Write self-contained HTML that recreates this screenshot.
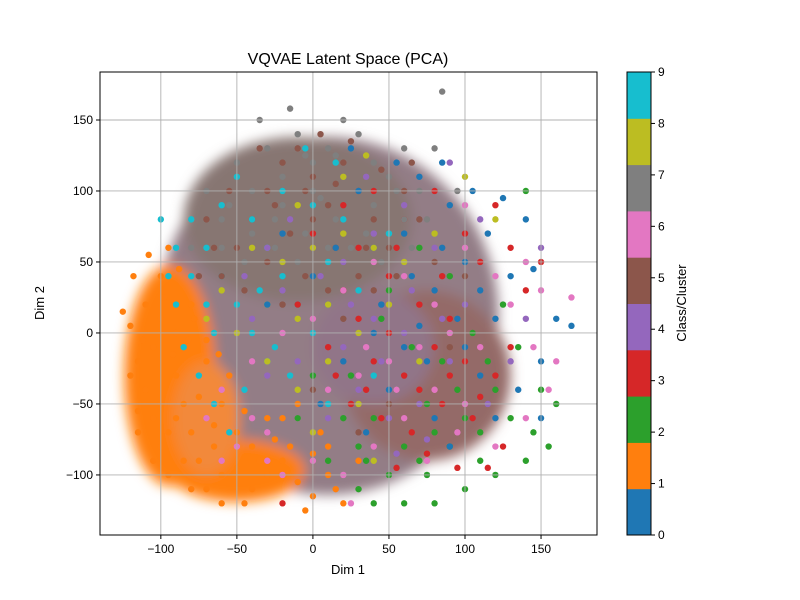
<!DOCTYPE html>
<html><head><meta charset="utf-8"><style>
body{margin:0;background:#fff}
svg{display:block;font-family:"Liberation Sans","DejaVu Sans",sans-serif}
</style></head><body>
<svg id="chart" width="800" height="600" viewBox="0 0 800 600">
<defs><filter id="soft" x="-20%" y="-20%" width="140%" height="140%"><feGaussianBlur stdDeviation="6"/></filter>
<clipPath id="plotclip"><rect x="100" y="72" width="497" height="463"/></clipPath></defs>
<rect x="0" y="0" width="800" height="600" fill="#fff"/>
<g id="backdrop" filter="url(#soft)" clip-path="url(#plotclip)"></g>
<g id="points"></g>
<g id="grid"></g>
<rect x="100" y="72" width="497" height="463" fill="none" stroke="#000" stroke-width="1"/>
<g id="xticks"></g>
<g id="yticks"></g>
<text x="348" y="64" text-anchor="middle" font-size="16">VQVAE Latent Space (PCA)</text>
<text x="348" y="574" text-anchor="middle" font-size="13">Dim 1</text>
<text x="44" y="303" text-anchor="middle" font-size="13" transform="rotate(-90 44 303)">Dim 2</text>
<g id="cbar"></g>
<text x="686" y="303" text-anchor="middle" font-size="13" transform="rotate(-90 686 303)">Class/Cluster</text>
</svg>
<script>
const xTicks=[-100,-50,0,50,100,150];
const yTicks=[-100,-50,0,50,100,150];
const cbTicks=[0,1,2,3,4,5,6,7,8,9];
const colors=["#1f77b4","#ff7f0e","#2ca02c","#d62728","#9467bd","#8c564b","#e377c2","#7f7f7f","#bcbd22","#17becf"];
const class0=[10,20,40,60,60,-10,80,30,100,50,120,10,130,40,150,-20,170,5,140,80,90,90,70,110,30,100,50,-40,80,-60,110,-30,20,-20,0,40,-20,70,60,70,95,10,115,70,135,-40,75,-20,45,20,25,130,85,120,105,100,145,45,160,10,5,-50,-30,20,65,40,125,95,55,120,35,-70,90,-80,100,-10,120,-60,150,-60,70,5,40,0,110,30,85,60,15,60];
const class1=[-120,5,-115,-20,-110,-40,-105,-60,-100,-80,-95,-100,-110,20,-100,40,-95,60,-105,-10,-90,-30,-85,-50,-80,-70,-75,-90,-70,-110,-60,-100,-50,-95,-40,-110,-30,-100,-20,-90,-10,-105,0,-115,10,-100,20,-120,-90,0,-80,20,-70,-20,-60,-50,-50,-70,-40,-80,-30,-60,-65,-80,-55,-30,-85,-90,-95,-70,-100,-50,-115,-55,-120,-30,-112,-5,-100,10,-92,-15,-82,-5,-75,-45,-65,-65,-45,-55,-35,-90,-25,-75,-15,-80,0,-85,10,-80,-125,15,-118,40,-108,55,-98,25,-88,45,-78,10,-70,-5,-62,-15,-90,-60,-80,-110,-60,-120,-45,-120,-5,-125,15,-110,30,-90,5,-70,-20,-60,-10,-50,-105,-90,-115,-70];
const class2=[30,-110,50,-100,70,-90,90,-80,110,-70,130,-60,140,-90,120,-100,100,-110,80,-120,60,-80,40,-60,55,-40,75,-50,95,-40,115,-20,135,-10,150,-40,160,-50,145,-70,85,-20,65,-10,45,10,25,-30,105,0,125,20,90,40,70,60,50,30,35,-90,20,-60,10,-90,80,-70,100,-60,120,-40,140,100,155,-80,60,-120,40,-120,75,-100,-10,-60,0,-30,30,-80,110,-90];
const class3=[40,-20,60,-30,80,-10,100,-20,120,-30,90,10,70,20,50,40,30,60,110,50,130,60,60,80,80,100,40,100,20,30,10,-10,45,-60,65,-70,85,-50,105,-60,125,-80,95,-95,75,-85,55,-95,35,-40,15,-30,100,70,120,90,140,30,150,50,70,-40,90,-30,110,-45,50,0,30,10,-10,20,0,70,20,90,55,60,85,40,130,-10,115,-95,-20,-120,25,-50];
const class4=[0,0,20,-10,40,10,60,0,-20,30,-10,-20,30,-40,50,-60,70,-50,90,-20,100,20,80,60,60,90,40,70,20,50,-30,60,-40,10,-30,-30,10,-60,90,120,110,80,130,-20,140,10,25,20,45,-20,65,30,5,40,-15,80,35,110,75,-75,55,-85,150,60,115,-50,-45,40,85,10];
const class5=[-50,60,-40,80,-30,100,-20,120,-10,130,0,110,10,90,20,120,30,100,40,80,-60,40,-45,30,-30,50,-15,70,0,80,15,60,30,40,50,60,60,100,70,80,-70,80,-55,100,-35,130,5,140,25,135,45,115,55,40,-20,20,-5,40,20,10,40,30,-65,60,-75,40,10,30,35,60,-25,90,-5,100,15,105,65,120,80,50,100,40,90,-10,50,-50,30,-70,0,-40];
const class6=[-50,-80,-30,-70,-10,-60,10,-40,30,-30,50,-20,70,-10,90,0,110,-10,130,20,150,30,160,-20,140,-60,120,-80,100,-50,80,-40,60,-60,40,-80,20,-100,0,-90,-20,-100,-40,-60,-60,-40,-40,-20,-20,0,0,10,20,30,40,50,60,40,80,20,100,60,120,40,100,90,140,50,155,-40,25,-120,-30,-90,-60,-90,35,-10,55,-40,75,-90,95,-70,170,25,145,-10,-70,-60];
const class7=[-60,80,-40,100,-20,110,0,120,20,110,40,120,60,130,-50,120,-30,130,-10,140,10,130,30,140,50,110,70,100,80,130,-70,100,-60,60,-40,70,-20,90,0,100,20,90,40,90,60,80,-45,50,-25,60,-5,70,15,80,35,70,55,100,-80,60,-15,158,20,150,85,170,-35,150,5,95,25,60,45,50,-10,50,10,60,65,60,-55,90,-25,80,75,80,95,100,-5,125,15,125];
const class8=[-40,60,-20,50,0,60,20,70,40,60,-30,20,-10,10,10,20,30,0,50,20,-50,0,-30,-20,-10,-40,10,-20,30,-50,60,50,80,70,100,110,120,80,20,110,-10,90,-60,30,0,-70,40,-90,70,-20,-70,10,35,125];
const class9=[-80,80,-70,60,-60,40,-50,20,-40,0,-30,-20,-70,20,-80,40,-90,60,-60,90,-50,110,-40,80,-30,60,-20,40,-10,20,0,0,10,50,20,80,-20,100,0,90,-90,20,-85,-10,-75,-30,-65,-50,-55,-70,-45,-40,-35,30,-25,-10,30,30,50,70,15,120,-100,80,-95,40,-5,130,-15,-30,-65,0,10,-50,40,-30];
const classes=[class0,class1,class2,class3,class4,class5,class6,class7,class8,class9];

const NS="http://www.w3.org/2000/svg";
const X0=100,X1=597,Y0=535,Y1=72,xmin=-140,xmax=186.8,ymin=-142.3,ymax=183.8;
function sx(v){return X0+(v-xmin)/(xmax-xmin)*(X1-X0);}
function sy(v){return Y0-(v-ymin)/(ymax-ymin)*(Y0-Y1);}
function mk(tag,attrs,parent){const e=document.createElementNS(NS,tag);for(const k in attrs)e.setAttribute(k,attrs[k]);parent.appendChild(e);return e;}

// decorative density backdrop (approximates the heavily overplotted cloud)
const bd=document.getElementById('backdrop');
const blobs=[[10,12,112,126,"#937d86"],[-10,80,75,58,"#877672"],[75,-30,55,60,"#946a68"],[40,-10,40,40,"#917488"],[-94,-30,30,78,"#ff7f0e"],[-50,-97,45,22,"#ff7f0e"],[-70,-60,22,40,"#f2893a"]];
blobs.forEach(b=>{
  const e=mk('ellipse',{cx:sx(b[0]),cy:sy(b[1]),rx:sx(b[2])-sx(0),ry:sy(0)-sy(b[3]),fill:b[4]},bd);
  
  
});

// points, interleaved across classes
const pg=document.getElementById('points');
const maxLen=Math.max(...classes.map(c=>c.length/2));
for(let i=0;i<maxLen;i++){
  for(let k=0;k<classes.length;k++){
    const c=classes[k];
    if(2*i+1<c.length){
      const e=mk('circle',{cx:sx(c[2*i]),cy:sy(c[2*i+1]),r:3.2,fill:colors[k]},pg);
      
      
    }
  }
}

// grid and ticks
const gg=document.getElementById('grid'),xg=document.getElementById('xticks'),yg=document.getElementById('yticks');
xTicks.forEach(t=>{
  const x=sx(t);
  const l=mk('line',{x1:x,x2:x,y1:Y1,y2:Y0,stroke:"#b0b0b0","stroke-width":0.9},gg);
  
  
  mk('line',{x1:x,x2:x,y1:Y0,y2:Y0+4,stroke:"#000"},xg);
  const tx=mk('text',{x:x,y:Y0+18,"text-anchor":"middle","font-size":12},xg);
  tx.textContent=t<0?"\u2212"+(-t):String(t);
  
  
});
yTicks.forEach(t=>{
  const y=sy(t);
  const l=mk('line',{x1:X0,x2:X1,y1:y,y2:y,stroke:"#b0b0b0","stroke-width":0.9},gg);
  
  
  mk('line',{x1:X0-4,x2:X0,y1:y,y2:y,stroke:"#000"},yg);
  const tx=mk('text',{x:X0-7,y:y+4,"text-anchor":"end","font-size":12},yg);
  tx.textContent=t<0?"\u2212"+(-t):String(t);
  
  
});

// colorbar
const cb=document.getElementById('cbar');
const CX=627,CW=24,CT=72,CB=535,n=colors.length,bh=(CB-CT)/n;
for(let k=0;k<n;k++){
  const r=mk('rect',{x:CX,y:CB-(k+1)*bh,width:CW,height:bh+0.5,fill:colors[k]},cb);
  
  
}
mk('rect',{x:CX,y:CT,width:CW,height:CB-CT,fill:"none",stroke:"#000","stroke-width":1},cb);
cbTicks.forEach(t=>{
  const y=CB-t/(cbTicks.length-1)*(CB-CT);
  mk('line',{x1:CX+CW,x2:CX+CW+4,y1:y,y2:y,stroke:"#000"},cb);
  const tx=mk('text',{x:CX+CW+7,y:y+4,"font-size":12},cb);
  tx.textContent=String(t);
  
  
});
</script>
</body></html>
